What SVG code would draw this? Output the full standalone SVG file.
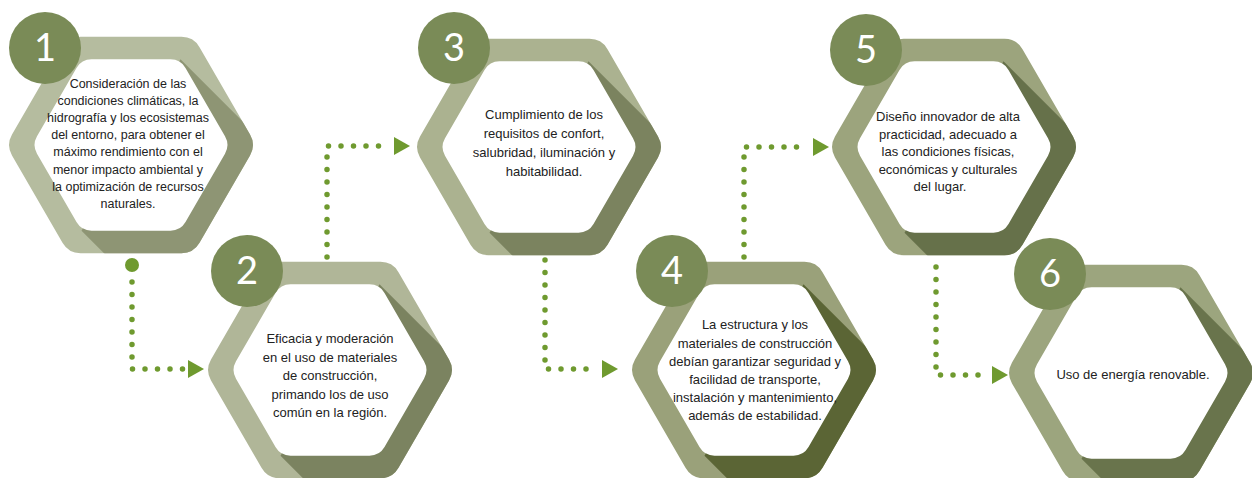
<svg xmlns="http://www.w3.org/2000/svg" width="1252" height="478" viewBox="0 0 1252 478">
<style>
.t{font-family:"Liberation Sans",Arial,sans-serif;font-size:13px;fill:#222222;text-anchor:middle}
.t1{font-size:12.5px}
.badge{fill:#7a8b57}
.num{font-family:Lato,"Liberation Sans",sans-serif;font-size:38px;font-weight:400;fill:#ffffff;text-anchor:middle}
.inner{fill:#ffffff}
.dots{fill:none;stroke:#6f9a2f;stroke-width:5.5;stroke-linecap:round;stroke-dasharray:0 12.5}
</style>
<defs>
<path id="outer" d="M119,-10.39 Q125,0 119,10.39 L68.5,97.86 Q62.5,108.25 50.5,108.25 L-50.5,108.25 Q-62.5,108.25 -68.5,97.86 L-119,10.39 Q-125,0 -119,-10.39 L-68.5,-97.86 Q-62.5,-108.25 -50.5,-108.25 L50.5,-108.25 Q62.5,-108.25 68.5,-97.86 Z"/>
<path id="inner" d="M94,-8.66 Q99,0 94,8.66 L54.5,77.08 Q49.5,85.74 39.5,85.74 L-39.5,85.74 Q-49.5,85.74 -54.5,77.08 L-94,8.66 Q-99,0 -94,-8.66 L-54.5,-77.08 Q-49.5,-85.74 -39.5,-85.74 L39.5,-85.74 Q49.5,-85.74 54.5,-77.08 Z"/>
<polygon id="shadow" points="49.5,-85.74 249.5,114.26 150.5,285.74 -49.5,85.74"/>
<clipPath id="clipOuter"><use href="#outer"/></clipPath>
<marker id="arrow" viewBox="0 0 16 18" refX="-5" refY="9" markerWidth="16" markerHeight="18" markerUnits="userSpaceOnUse" orient="auto" overflow="visible">
<path d="M0,0 L16,9 L0,18 Z" fill="#6f9a2f"/>
</marker>
</defs>

<g id="connectors">
<circle cx="132" cy="265" r="7" fill="#6f9a2f"/>
<path class="dots" d="M132,282 V369 H183" marker-end="url(#arrow)"/>
<path class="dots" d="M327,257 V146 H389" marker-end="url(#arrow)"/>
<path class="dots" d="M545,260 V369 H597" marker-end="url(#arrow)"/>
<path class="dots" d="M744,257 V147 H808" marker-end="url(#arrow)"/>
<path class="dots" d="M936,267 V375 H987" marker-end="url(#arrow)"/>
</g>

<g id="node1">
<g transform="translate(131,145)">
<use href="#outer" fill="#b5bc9f"/>
<use href="#shadow" fill="#8e9574" clip-path="url(#clipOuter)"/>
<use href="#inner" class="inner"/>
</g>
<circle class="badge" cx="45" cy="48" r="36"/>
<text class="num" x="45" y="61">1</text>
<text class="t t1" x="128" y="87.5">Consideración de las</text>
<text class="t t1" x="128" y="104.7">condiciones climáticas, la</text>
<text class="t t1" x="128" y="121.9">hidrografía y los ecosistemas</text>
<text class="t t1" x="128" y="139.1">del entorno, para obtener el</text>
<text class="t t1" x="128" y="156.3">máximo rendimiento con el</text>
<text class="t t1" x="128" y="173.5">menor impacto ambiental y</text>
<text class="t t1" x="128" y="190.7">la optimización de recursos</text>
<text class="t t1" x="128" y="207.9">naturales.</text>
</g>

<g id="node2">
<g transform="translate(330,370)">
<use href="#outer" fill="#b0b698"/>
<use href="#shadow" fill="#7b8360" clip-path="url(#clipOuter)"/>
<use href="#inner" class="inner"/>
</g>
<circle class="badge" cx="247" cy="271" r="36"/>
<text class="num" x="247" y="284">2</text>
<text class="t" x="330" y="343">Eficacia y moderación</text>
<text class="t" x="330" y="361.5">en el uso de materiales</text>
<text class="t" x="330" y="380">de construcción,</text>
<text class="t" x="330" y="398.5">primando los de uso</text>
<text class="t" x="330" y="417">común en la región.</text>
</g>

<g id="node3">
<g transform="translate(539,147)">
<use href="#outer" fill="#abb290"/>
<use href="#shadow" fill="#7b835f" clip-path="url(#clipOuter)"/>
<use href="#inner" class="inner"/>
</g>
<circle class="badge" cx="454" cy="48" r="36"/>
<text class="num" x="454" y="61">3</text>
<text class="t" x="544" y="119">Cumplimiento de los</text>
<text class="t" x="544" y="138">requisitos de confort,</text>
<text class="t" x="544" y="157">salubridad, iluminación y</text>
<text class="t" x="544" y="176">habitabilidad.</text>
</g>

<g id="node4">
<g transform="translate(754,370)">
<use href="#outer" fill="#9aa17a"/>
<use href="#shadow" fill="#5b6535" clip-path="url(#clipOuter)"/>
<use href="#inner" class="inner"/>
</g>
<circle class="badge" cx="672" cy="271" r="36"/>
<text class="num" x="672" y="284">4</text>
<text class="t" x="755" y="329">La estructura y los</text>
<text class="t" x="755" y="347.5">materiales de construcción</text>
<text class="t" x="755" y="366">debían garantizar seguridad y</text>
<text class="t" x="755" y="384">facilidad de transporte,</text>
<text class="t" x="755" y="402">instalación y mantenimiento,</text>
<text class="t" x="755" y="420">además de estabilidad.</text>
</g>

<g id="node5">
<g transform="translate(954,147)">
<use href="#outer" fill="#9ca47d"/>
<use href="#shadow" fill="#66714a" clip-path="url(#clipOuter)"/>
<use href="#inner" class="inner"/>
</g>
<circle class="badge" cx="866" cy="50" r="36"/>
<text class="num" x="866" y="63">5</text>
<text class="t" x="948" y="121">Diseño innovador de alta</text>
<text class="t" x="948" y="138.5">practicidad, adecuado a</text>
<text class="t" x="948" y="156">las condiciones físicas,</text>
<text class="t" x="948" y="174">económicas y culturales</text>
<text class="t" x="940" y="191">del lugar.</text>
</g>

<g id="node6">
<g transform="translate(1131,373)">
<use href="#outer" fill="#9ca57e"/>
<use href="#shadow" fill="#69744c" clip-path="url(#clipOuter)"/>
<use href="#inner" class="inner"/>
</g>
<circle class="badge" cx="1050" cy="274" r="36"/>
<text class="num" x="1050" y="287">6</text>
<text class="t" x="1133" y="379">Uso de energía renovable.</text>
</g>
</svg>
